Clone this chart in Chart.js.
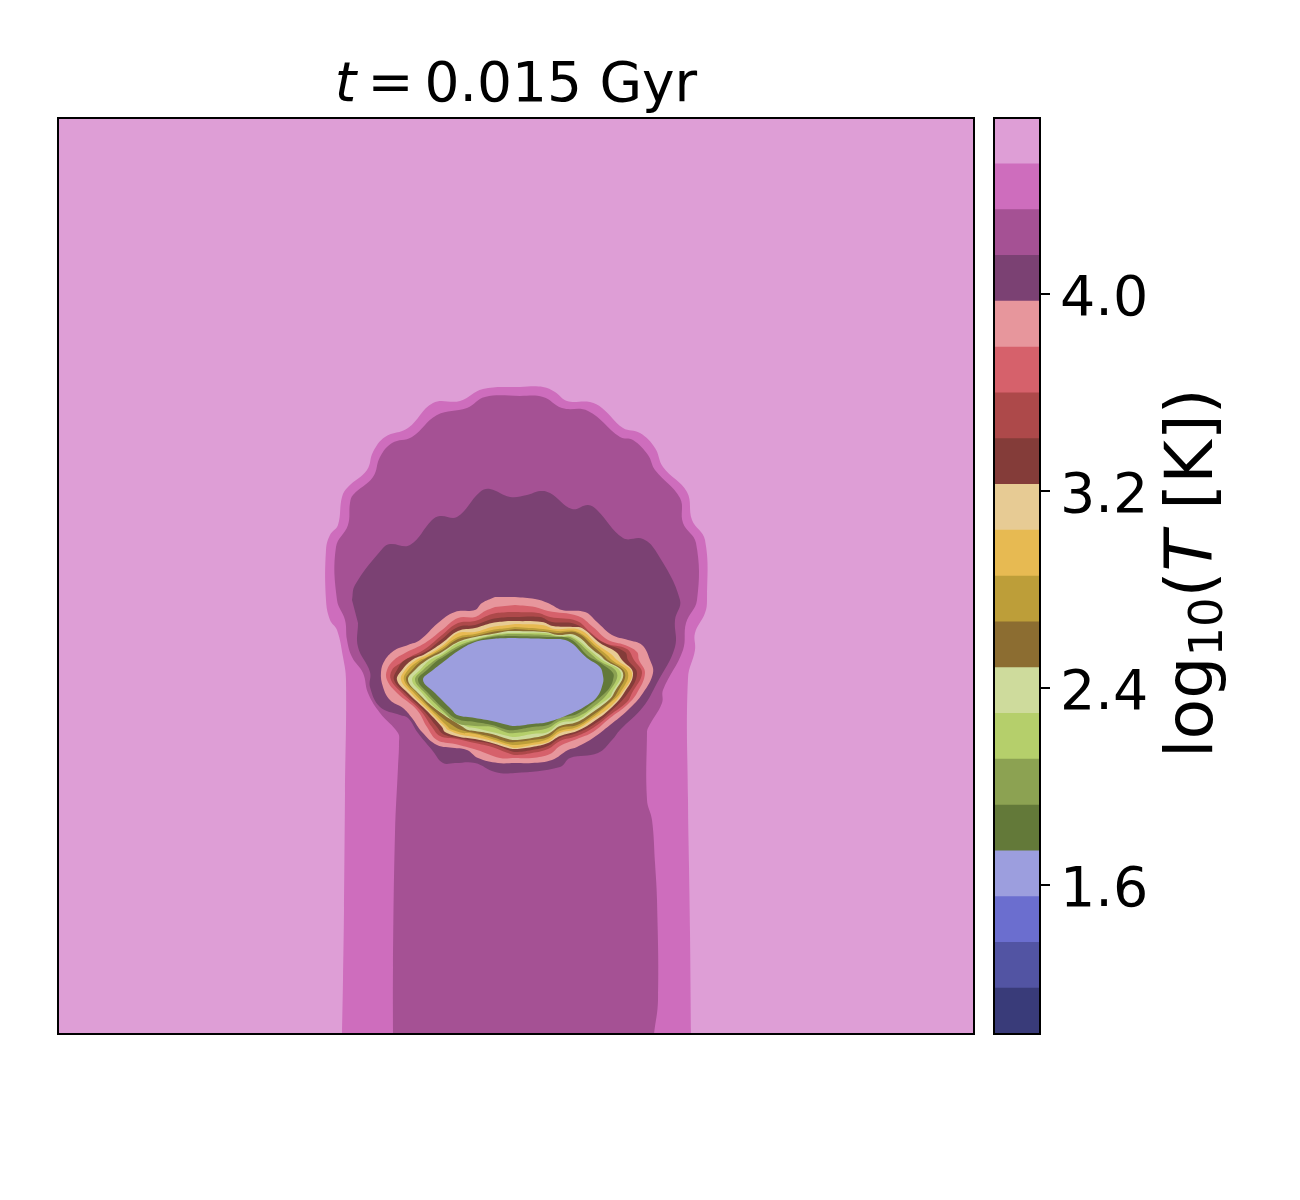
<!DOCTYPE html>
<html>
<head>
<meta charset="utf-8">
<title>t = 0.015 Gyr</title>
<script src="https://cdn.jsdelivr.net/npm/chart.js@4/dist/chart.umd.min.js"></script>
<style>
    body { margin: 0; background: #ffffff; }
    #wrap { position: relative; width: 1300px; height: 1200px; font-family: "DejaVu Sans", sans-serif; color: #000000; overflow: hidden; }
    canvas { position: absolute; left: 0; top: 0; }
    #plotTitle { position: absolute; left: 216px; width: 600px; top: 49px; text-align: center; font-size: 55px; line-height: 66px; white-space: nowrap; }
    #plotTitle .eq { margin: 0 11px; }
    #cbLabel { position: absolute; left: 1147px; top: 758px; font-size: 66.5px; line-height: 84px; white-space: nowrap; transform-origin: 0 0; transform: rotate(-90deg); }
    #cbLabel sub { font-size: 46.5px; line-height: 0; vertical-align: -10px; }
</style>
</head>
<body>
<div id="wrap">
    <canvas id="mapChart" width="1300" height="1200"></canvas>
    <canvas id="barChart" width="1300" height="1200"></canvas>
    <div id="plotTitle"><i>t</i><span class="eq">=</span>0.015 Gyr</div>
    <div id="cbLabel">log<sub>10</sub>(<i>T</i> [K])</div>
</div>
<script>
// Colour levels of the map, log10(T), lowest to highest
const levelEdges = [0.996, 1.182, 1.368, 1.554, 1.74, 1.926, 2.112, 2.298, 2.484, 2.67, 2.856,
    3.042, 3.228, 3.414, 3.6, 3.786, 3.972, 4.158, 4.344, 4.53, 4.716];
const levelColors = ["#393b79", "#5254a3", "#6b6ecf", "#9c9ede", "#637939", "#8ca252", "#b5cf6b", "#cedb9c",
    "#8c6d31", "#bd9e39", "#e7ba52", "#e7cb94", "#843c39", "#ad494a", "#d6616b", "#e7969c",
    "#7b4173", "#a55194", "#ce6dbd", "#de9ed6"];
const cbTicks = [1.6, 2.4, 3.2, 4.0];

// Map grid extent (cells)
const gridSize = 916;

// Contours as [x, y] grid cells
const band19 = [[0, 0], [0, 916], [916, 916], [916, 0]];
const band18 = [[284, 0], [285, 54], [286, 124], [287, 241], [288, 354], [285, 377], [279, 404], [272, 414], [268, 434], [268, 484], [272, 499], [280, 509], [284, 537], [290, 547], [309, 564], [315, 582], [327, 597], [350, 606], [375, 631], [402, 633], [425, 645], [462, 647], [485, 647], [497, 642], [509, 633], [532, 632], [544, 626], [565, 606], [582, 601], [597, 586], [605, 567], [629, 542], [634, 514], [647, 494], [649, 434], [647, 421], [637, 401], [637, 384], [630, 356], [630, 234], [631, 167], [632, 101], [633, 0]];
const band17 = [[335, 0], [335, 67], [337, 201], [340, 267], [341, 291], [340, 301], [322, 321], [310, 341], [305, 361], [294, 377], [289, 394], [287, 414], [279, 434], [278, 487], [290, 509], [292, 531], [295, 539], [315, 557], [322, 577], [334, 591], [354, 597], [379, 619], [409, 626], [427, 637], [462, 638], [485, 637], [504, 626], [530, 623], [562, 597], [575, 594], [590, 579], [597, 564], [622, 536], [625, 511], [638, 491], [639, 434], [628, 411], [625, 384], [605, 344], [604, 331], [590, 306], [589, 301], [589, 234], [594, 214], [597, 171], [599, 134], [600, 34], [596, 0]];
const band16 = [[294, 434], [297, 449], [325, 486], [332, 490], [352, 489], [374, 514], [382, 518], [399, 517], [422, 542], [432, 545], [452, 537], [469, 539], [482, 543], [492, 541], [514, 525], [530, 529], [539, 524], [565, 496], [585, 495], [599, 481], [622, 434], [617, 414], [617, 387], [599, 351], [585, 327], [562, 304], [554, 294], [540, 281], [512, 276], [502, 267], [457, 261], [437, 262], [417, 271], [397, 271], [385, 271], [374, 284], [360, 301], [350, 316], [342, 319], [322, 327], [312, 347], [312, 362], [300, 387], [300, 411]];
const band15 = [[457, 437], [477, 435], [490, 431], [504, 424], [527, 422], [539, 412], [554, 399], [570, 394], [584, 389], [592, 374], [595, 361], [585, 341], [570, 324], [552, 309], [535, 296], [519, 287], [510, 284], [494, 274], [474, 271], [457, 271], [440, 271], [420, 276], [409, 284], [397, 286], [379, 289], [364, 302], [354, 316], [345, 326], [332, 334], [325, 347], [323, 362], [327, 374], [337, 384], [350, 389], [362, 394], [380, 411], [397, 422], [417, 424], [424, 431], [437, 437]];
const band14 = [[457, 429], [477, 427], [490, 423], [520, 418], [535, 407], [550, 394], [567, 389], [579, 382], [581, 374], [587, 361], [579, 341], [569, 329], [552, 316], [535, 302], [519, 295], [502, 288], [492, 280], [474, 276], [457, 276], [442, 276], [419, 284], [397, 290], [379, 294], [369, 307], [359, 324], [339, 341], [329, 354], [329, 364], [336, 374], [347, 381], [367, 391], [384, 404], [400, 416], [417, 417], [427, 423], [437, 427]];
const band13 = [[457, 422], [480, 421], [492, 417], [519, 413], [532, 402], [547, 391], [569, 385], [576, 374], [584, 361], [574, 341], [569, 332], [552, 319], [535, 306], [519, 298], [502, 293], [490, 285], [474, 281], [457, 279], [450, 281], [434, 287], [417, 291], [399, 295], [382, 298], [374, 307], [362, 324], [344, 341], [333, 354], [334, 364], [344, 372], [350, 376], [367, 385], [384, 399], [400, 411], [417, 413], [434, 420], [450, 422]];
const band12 = [[457, 417], [482, 417], [494, 412], [517, 410], [544, 392], [567, 382], [570, 374], [579, 361], [570, 341], [552, 322], [535, 309], [519, 301], [502, 296], [490, 288], [474, 284], [457, 282], [450, 284], [434, 290], [417, 293], [400, 296], [385, 300], [379, 307], [365, 324], [347, 341], [336, 354], [339, 364], [347, 374], [367, 382], [384, 395], [400, 407], [417, 409], [434, 415], [450, 417]];
const band11 = [[457, 413], [484, 412], [495, 408], [515, 407], [524, 406], [542, 391], [558, 382], [564, 374], [575, 361], [566, 341], [552, 325], [535, 312], [519, 303], [502, 298], [490, 291], [474, 287], [457, 285], [450, 286], [434, 291], [417, 295], [402, 297], [387, 302], [384, 307], [368, 324], [350, 341], [339, 354], [344, 364], [354, 374], [367, 380], [384, 391], [400, 403], [417, 406], [434, 411], [450, 413]];
const band10 = [[457, 410], [484, 409], [497, 405], [522, 404], [540, 389], [553, 380], [559, 374], [574, 361], [564, 341], [552, 327], [535, 315], [519, 305], [502, 301], [490, 292], [474, 289], [457, 286], [450, 288], [434, 293], [417, 297], [404, 299], [390, 304], [387, 307], [370, 324], [353, 341], [343, 354], [347, 364], [358, 374], [367, 378], [384, 388], [400, 401], [417, 402], [434, 407], [450, 409]];
const band9 = [[457, 407], [485, 405], [499, 403], [520, 402], [539, 387], [549, 379], [554, 374], [570, 361], [562, 341], [552, 331], [535, 317], [519, 307], [502, 303], [490, 295], [474, 291], [457, 289], [450, 290], [434, 295], [417, 300], [405, 301], [392, 305], [390, 307], [373, 324], [356, 341], [346, 354], [350, 364], [362, 374], [367, 376], [384, 386], [400, 397], [417, 400], [434, 404], [450, 406]];
const band8 = [[457, 405], [485, 403], [499, 401], [519, 401], [537, 386], [546, 378], [550, 374], [567, 361], [559, 341], [552, 332], [535, 319], [519, 309], [502, 306], [490, 297], [474, 294], [457, 292], [450, 292], [434, 297], [417, 301], [407, 303], [397, 307], [375, 324], [359, 341], [348, 354], [354, 364], [365, 374], [384, 384], [400, 395], [417, 398], [434, 402], [450, 404]];
const band7 = [[457, 403], [487, 402], [500, 399], [517, 399], [535, 384], [543, 378], [547, 374], [565, 361], [556, 341], [552, 335], [535, 322], [519, 312], [502, 308], [490, 300], [474, 296], [457, 294], [450, 295], [434, 300], [417, 303], [410, 304], [405, 307], [379, 324], [360, 341], [350, 354], [357, 364], [369, 374], [384, 382], [400, 392], [417, 397], [434, 400], [450, 403]];
const band6 = [[457, 401], [487, 401], [500, 398], [515, 397], [534, 382], [540, 377], [544, 374], [563, 361], [554, 341], [552, 337], [535, 325], [519, 314], [502, 311], [490, 302], [474, 300], [457, 297], [450, 298], [434, 302], [417, 306], [410, 307], [380, 324], [364, 341], [354, 354], [362, 364], [372, 374], [384, 380], [400, 391], [417, 395], [434, 399], [450, 401]];
const band5 = [[457, 400], [489, 399], [502, 397], [514, 396], [532, 381], [540, 374], [559, 361], [550, 341], [535, 327], [519, 317], [502, 313], [490, 306], [474, 303], [457, 301], [450, 301], [434, 307], [417, 308], [399, 311], [384, 324], [367, 341], [357, 354], [365, 364], [377, 374], [384, 378], [400, 388], [417, 394], [434, 398], [450, 400]];
const band4 = [[457, 398], [489, 397], [512, 395], [530, 378], [537, 374], [544, 370], [555, 361], [555, 354], [552, 347], [547, 341], [535, 331], [519, 320], [502, 316], [490, 309], [474, 307], [457, 304], [450, 304], [434, 309], [417, 312], [399, 315], [387, 324], [370, 341], [360, 354], [369, 364], [380, 374], [384, 376], [400, 386], [417, 393], [434, 397], [450, 398]];
const band3 = [[457, 396], [489, 395], [510, 393], [529, 376], [542, 367], [545, 358], [545, 351], [539, 337], [526, 327], [512, 320], [490, 312], [474, 310], [457, 308], [450, 309], [434, 313], [417, 316], [399, 319], [394, 324], [377, 341], [365, 354], [375, 364], [384, 371], [400, 383], [417, 392], [434, 395], [450, 396]];

// Innermost contour first, the library paints dataset 0 on top
const contourBands = [band3, band4, band5, band6, band7, band8, band9, band10, band11, band12, band13, band14,
    band15, band16, band17, band18, band19];
const contourColorIdx = [3, 4, 5, 6, 7, 8, 9, 10, 11, 12, 13, 14, 15, 16, 17, 18, 19];

// Black box around a plot, both axes are hidden or one sided
const framePlugin = {
    id: "frame",
    afterDraw(chart) {
        const { ctx, chartArea } = chart;
        ctx.save();
        ctx.strokeStyle = "#000000";
        ctx.lineWidth = 2;
        ctx.strokeRect(chartArea.left, chartArea.top, chartArea.right - chartArea.left, chartArea.bottom - chartArea.top);
        ctx.restore();
    }
};

new Chart(document.getElementById("mapChart"), {
    type: "scatter",
    data: {
        datasets: contourBands.map((band, i) => ({
            data: band,
            showLine: true,
            fill: "shape",
            tension: 0.4,
            borderWidth: 0,
            pointRadius: 0,
            backgroundColor: levelColors[contourColorIdx[i]]
        }))
    },
    options: {
        responsive: false,
        animation: false,
        layout: { padding: { left: 58, top: 118, right: 326, bottom: 166 } },
        plugins: { legend: { display: false }, tooltip: { enabled: false } },
        scales: {
            x: { type: "linear", display: false, min: 0, max: gridSize },
            y: { type: "linear", display: false, min: 0, max: gridSize }
        }
    },
    plugins: [framePlugin]
});

new Chart(document.getElementById("barChart"), {
    type: "bar",
    data: {
        labels: [""],
        datasets: levelColors.map((color, i) => ({
            data: [[levelEdges[i], levelEdges[i + 1]]],
            backgroundColor: color,
            borderWidth: 0,
            barPercentage: 1,
            categoryPercentage: 1
        }))
    },
    options: {
        responsive: false,
        animation: false,
        layout: { padding: { left: 994, top: 118, right: 154, bottom: 166 } },
        plugins: { legend: { display: false }, tooltip: { enabled: false } },
        scales: {
            x: { display: false, stacked: true },
            y: {
                position: "right",
                min: levelEdges[0],
                max: levelEdges[levelEdges.length - 1],
                afterFit: scale => { scale.width = 106; },
                afterBuildTicks: scale => { scale.ticks = cbTicks.map(v => ({ value: v })); },
                border: { display: false },
                grid: { drawOnChartArea: false, drawTicks: true, tickLength: 10, tickColor: "#000000", lineWidth: 2 },
                ticks: {
                    color: "#000000",
                    padding: 10,
                    labelOffset: 6,
                    font: { family: "DejaVu Sans", size: 55.5 },
                    callback: v => v.toFixed(1)
                }
            }
        }
    },
    plugins: [framePlugin]
});
</script>
</body>
</html>
